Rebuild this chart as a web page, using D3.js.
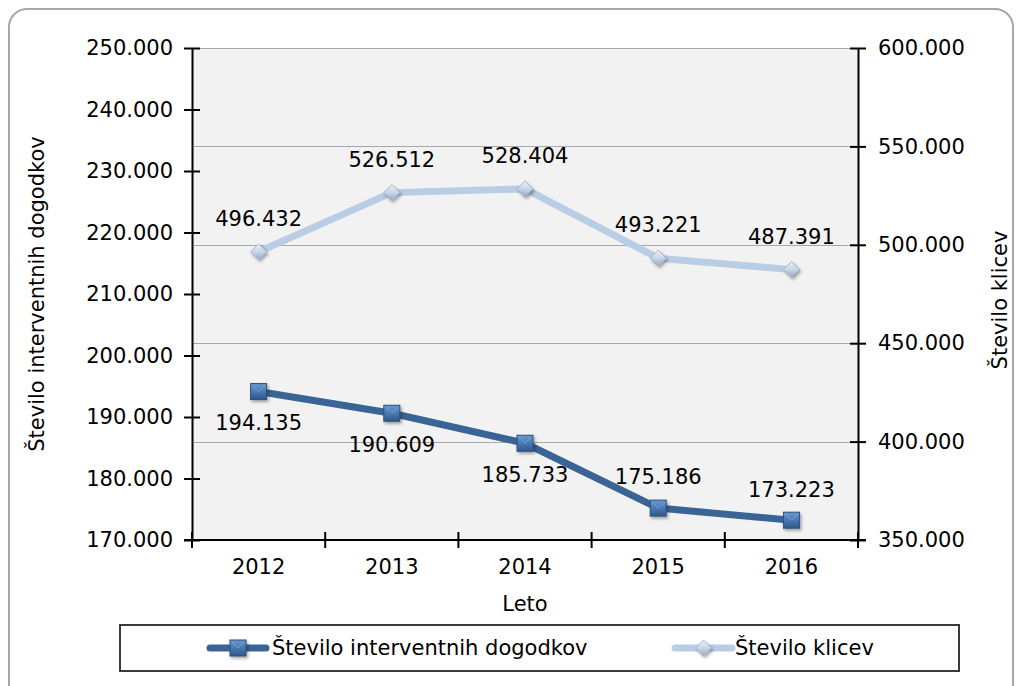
<!DOCTYPE html>
<html>
<head>
<meta charset="utf-8">
<script src="https://cdn.jsdelivr.net/npm/d3@7"></script>
<style>
  html, body { margin: 0; padding: 0; background: #ffffff; }
  svg { display: block; font-family: "DejaVu Sans", Verdana, sans-serif; }
</style>
</head>
<body>
<svg id="chart" width="1019" height="686"></svg>
<script>
// ---- data ----
const years = ["2012", "2013", "2014", "2015", "2016"];
const interventni = [194135, 190609, 185733, 175186, 173223];
const klici = [496432, 526512, 528404, 493221, 487391];
const leftTicks = [170000, 180000, 190000, 200000, 210000, 220000, 230000, 240000, 250000];
const rightTicks = [350000, 400000, 450000, 500000, 550000, 600000];
const seriesNames = ["Število interventnih dogodkov", "Število klicev"];
const leftTitle = "Število interventnih dogodkov";
const rightTitle = "Število klicev";
const xTitle = "Leto";

// ---- layout ----
const W = 1019, H = 686;
const plot = { left: 192, right: 858, top: 48, bottom: 540 };
const fontSize = 21;

const loc = d3.formatLocale({ decimal: ",", thousands: ".", grouping: [3], currency: ["", ""] });
const fmt = v => loc.format(",")(v) ;
const fmtAxis = v => loc.format(",")(v);

const svg = d3.select("#chart");
const defs = svg.append("defs");

// gradients & filters
const gSq = defs.append("linearGradient").attr("id", "gSq").attr("x1", 0).attr("y1", 0).attr("x2", 0).attr("y2", 1);
gSq.append("stop").attr("offset", "0%").attr("stop-color", "#6b98d0");
gSq.append("stop").attr("offset", "50%").attr("stop-color", "#4a78b2");
gSq.append("stop").attr("offset", "100%").attr("stop-color", "#30578a");
const gDi = defs.append("linearGradient").attr("id", "gDi").attr("x1", 0).attr("y1", 0).attr("x2", 0).attr("y2", 1);
gDi.append("stop").attr("offset", "0%").attr("stop-color", "#eef3f9");
gDi.append("stop").attr("offset", "55%").attr("stop-color", "#c3d2e4");
gDi.append("stop").attr("offset", "100%").attr("stop-color", "#93a9c4");
const sh = defs.append("filter").attr("id", "shadow").attr("x", "-50%").attr("y", "-50%").attr("width", "200%").attr("height", "200%");
sh.append("feDropShadow").attr("dx", 1.5).attr("dy", 2).attr("stdDeviation", 1.5).attr("flood-color", "#000").attr("flood-opacity", 0.35);

// outer border
svg.append("rect")
  .attr("x", 9).attr("y", 9).attr("width", 1004).attr("height", 700)
  .attr("rx", 18).attr("ry", 18)
  .attr("fill", "#ffffff").attr("stroke", "#a6a6a6").attr("stroke-width", 2);

// scales
const x = d3.scaleBand().domain(years).range([plot.left, plot.right]).padding(0);
const yL = d3.scaleLinear().domain([170000, 250000]).range([plot.bottom, plot.top]);
const yR = d3.scaleLinear().domain([350000, 600000]).range([plot.bottom, plot.top]);
const cx = d => x(d) + x.bandwidth() / 2;

// plot background
svg.append("rect")
  .attr("x", plot.left).attr("y", plot.top)
  .attr("width", plot.right - plot.left).attr("height", plot.bottom - plot.top)
  .attr("fill", "#f2f2f2");

// gridlines (at right-axis ticks)
svg.append("g").selectAll("line")
  .data(rightTicks.filter(t => t > 350000))
  .join("line")
  .attr("x1", plot.left).attr("x2", plot.right)
  .attr("y1", d => Math.round(yR(d)) + 0.5).attr("y2", d => Math.round(yR(d)) + 0.5)
  .attr("stroke", "#a8a8a8").attr("stroke-width", 1);

// left axis
const axL = svg.append("g").attr("transform", `translate(${plot.left},0)`)
  .call(d3.axisLeft(yL).tickValues(leftTicks).tickFormat(fmtAxis).tickSizeInner(8).tickSizeOuter(0).tickPadding(11));
axL.select(".domain").attr("stroke", "#000").attr("stroke-width", 2);
axL.selectAll(".tick line").attr("stroke", "#000").attr("stroke-width", 2).attr("x1", -8).attr("x2", 8);
axL.selectAll(".tick text").attr("font-size", fontSize).attr("fill", "#000").attr("font-family", "DejaVu Sans");

// right axis
const axR = svg.append("g").attr("transform", `translate(${plot.right},0)`)
  .call(d3.axisRight(yR).tickValues(rightTicks).tickFormat(fmtAxis).tickSizeInner(8).tickSizeOuter(0).tickPadding(12));
axR.select(".domain").attr("stroke", "#000").attr("stroke-width", 2);
axR.selectAll(".tick line").attr("stroke", "#000").attr("stroke-width", 2).attr("x1", -8).attr("x2", 8);
axR.selectAll(".tick text").attr("font-size", fontSize).attr("fill", "#000").attr("font-family", "DejaVu Sans");

// bottom axis (labels centered in bands, ticks at band boundaries)
const axB = svg.append("g").attr("transform", `translate(0,${plot.bottom})`)
  .call(d3.axisBottom(x).tickSize(0).tickPadding(19));
axB.select(".domain").remove();
axB.selectAll(".tick text").attr("font-size", fontSize).attr("fill", "#000").attr("font-family", "DejaVu Sans");
svg.append("line")
  .attr("x1", plot.left - 8).attr("x2", plot.right + 8)
  .attr("y1", plot.bottom).attr("y2", plot.bottom)
  .attr("stroke", "#000").attr("stroke-width", 2);
const bounds = years.map(d => x(d)).concat([plot.right]);
svg.append("g").selectAll("line")
  .data(bounds)
  .join("line")
  .attr("x1", d => d).attr("x2", d => d)
  .attr("y1", plot.bottom - 8).attr("y2", plot.bottom + 8)
  .attr("stroke", "#000").attr("stroke-width", 2);

// axis titles
svg.append("text")
  .attr("transform", `translate(44,${(plot.top + plot.bottom) / 2}) rotate(-90)`)
  .attr("text-anchor", "middle").attr("font-size", fontSize).attr("fill", "#000")
  .text(leftTitle);
svg.append("text")
  .attr("transform", `translate(1007,${(plot.top + plot.bottom) / 2 + 6}) rotate(-90)`)
  .attr("text-anchor", "middle").attr("font-size", fontSize).attr("fill", "#000")
  .text(rightTitle);
svg.append("text")
  .attr("x", (plot.left + plot.right) / 2).attr("y", 611)
  .attr("text-anchor", "middle").attr("font-size", fontSize).attr("fill", "#000")
  .text(xTitle);

// series 2 (light, right axis)
const lineR = d3.line().x((d, i) => cx(years[i])).y(d => yR(d));
svg.append("path").datum(klici)
  .attr("d", lineR).attr("fill", "none")
  .attr("stroke", "#b9cde5").attr("stroke-width", 7).attr("stroke-linejoin", "round");
const diamond = s => `M0,${-s}L${s},0L0,${s}L${-s},0Z`;
svg.append("g").selectAll("path")
  .data(klici)
  .join("path")
  .attr("transform", (d, i) => `translate(${cx(years[i])},${yR(d)})`)
  .attr("d", diamond(8))
  .attr("fill", "url(#gDi)").attr("stroke", "#9fb2cb").attr("stroke-width", 1)
  .attr("filter", "url(#shadow)");
svg.append("g").selectAll("text")
  .data(klici)
  .join("text")
  .attr("x", (d, i) => cx(years[i]))
  .attr("y", d => yR(d) - 33)
  .attr("dy", "0.35em")
  .attr("text-anchor", "middle").attr("font-size", fontSize).attr("fill", "#000")
  .text(d => fmt(d));

// series 1 (dark, left axis)
const lineL = d3.line().x((d, i) => cx(years[i])).y(d => yL(d));
svg.append("path").datum(interventni)
  .attr("d", lineL).attr("fill", "none")
  .attr("stroke", "#3b6496").attr("stroke-width", 7).attr("stroke-linejoin", "round");
const sq = 16;
const sqG = svg.append("g").selectAll("g")
  .data(interventni)
  .join("g")
  .attr("transform", (d, i) => `translate(${cx(years[i])},${yL(d)})`);
sqG.append("rect")
  .attr("x", -sq / 2).attr("y", -sq / 2).attr("width", sq).attr("height", sq)
  .attr("fill", "url(#gSq)").attr("stroke", "#2b4f7e").attr("stroke-width", 1)
  .attr("filter", "url(#shadow)");
sqG.append("path")
  .attr("d", `M${-sq / 2 + 2},${-sq / 2 + 2}L0,0L${sq / 2 - 2},${-sq / 2 + 2}`)
  .attr("fill", "none").attr("stroke", "#7fa6d8").attr("stroke-width", 1).attr("opacity", 0.8);
const below = [true, true, true, false, false];
svg.append("g").selectAll("text")
  .data(interventni)
  .join("text")
  .attr("x", (d, i) => cx(years[i]))
  .attr("y", (d, i) => yL(d) + (below[i] ? 31 : -31))
  .attr("dy", "0.35em")
  .attr("text-anchor", "middle").attr("font-size", fontSize).attr("fill", "#000")
  .text(d => fmt(d));

// legend
const lg = svg.append("g");
lg.append("rect")
  .attr("x", 120).attr("y", 625).attr("width", 839).attr("height", 46)
  .attr("fill", "#ffffff").attr("stroke", "#3a3a3a").attr("stroke-width", 2);
const legendItems = [
  { name: seriesNames[0], x0: 210, x1: 266, color: "#3b6496", marker: "sq", tx: 272 },
  { name: seriesNames[1], x0: 675, x1: 732, color: "#b9cde5", marker: "di", tx: 735 }
];
const ly = 648;
legendItems.forEach(it => {
  lg.append("line")
    .attr("x1", it.x0).attr("x2", it.x1).attr("y1", ly).attr("y2", ly)
    .attr("stroke", it.color).attr("stroke-width", 7).attr("stroke-linecap", "round");
  const mx = (it.x0 + it.x1) / 2;
  if (it.marker === "sq") {
    lg.append("rect")
      .attr("x", mx - sq / 2).attr("y", ly - sq / 2).attr("width", sq).attr("height", sq)
      .attr("fill", "url(#gSq)").attr("stroke", "#2b4f7e").attr("stroke-width", 1)
      .attr("filter", "url(#shadow)");
    lg.append("path")
      .attr("d", `M${mx - sq / 2 + 2},${ly - sq / 2 + 2}L${mx},${ly}L${mx + sq / 2 - 2},${ly - sq / 2 + 2}`)
      .attr("fill", "none").attr("stroke", "#7fa6d8").attr("stroke-width", 1).attr("opacity", 0.8);
  } else {
    lg.append("path")
      .attr("transform", `translate(${mx},${ly})`)
      .attr("d", diamond(8))
      .attr("fill", "url(#gDi)").attr("stroke", "#9fb2cb").attr("stroke-width", 1)
      .attr("filter", "url(#shadow)");
  }
  lg.append("text")
    .attr("x", it.tx).attr("y", ly).attr("dy", "0.35em")
    .attr("font-size", fontSize).attr("fill", "#000")
    .text(it.name);
});
</script>
</body>
</html>
